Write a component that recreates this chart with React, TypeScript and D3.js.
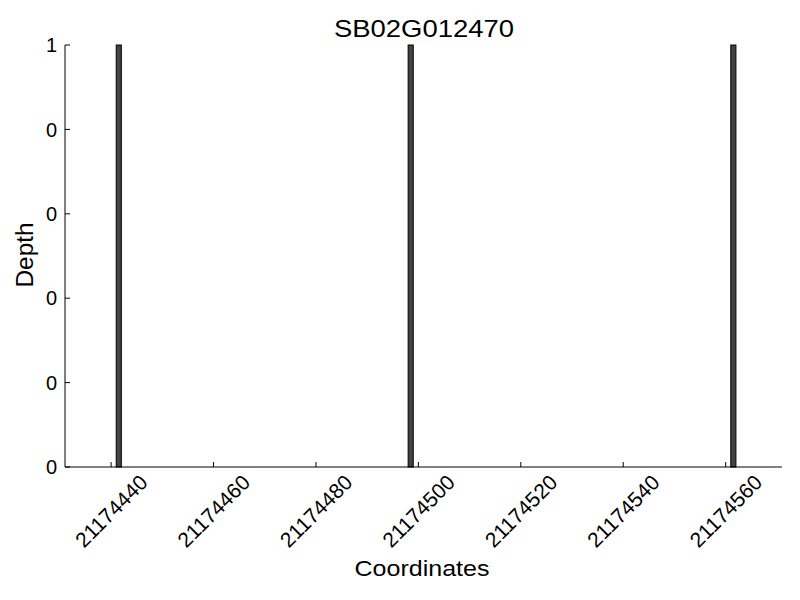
import React from "react";
import * as d3 from "d3";

const title = "SB02G012470";
const xLabel = "Coordinates";
const yLabel = "Depth";
const positions = [21174441, 21174498, 21174561];
const depths = [1, 1, 1];
const xTicks = [21174440, 21174460, 21174480, 21174500, 21174520, 21174540, 21174560];
const yTicks = [0, 0.2, 0.4, 0.6, 0.8, 1];
const yTickLabels = ["0", "0", "0", "0", "0", "1"];
const xDomain = [21174431, 21174571];

export default function App() {
  const W = 800, H = 600;
  const x = d3.scaleLinear().domain(xDomain).range([65, 782]);
  const y = d3.scaleLinear().domain([0, 1]).range([467, 45]);
  const font = "'Liberation Sans', Arial, Helvetica, sans-serif";
  return (
    <svg width={W} height={H} style={{ position: "absolute", left: 0, top: 0, background: "#fff" }} fontFamily={font}>
      <rect x={0} y={0} width={W} height={H} fill="#fff" />
      {positions.map((p, i) => (
        <rect key={i} x={x(p)} y={y(depths[i])} width={x(p + 1) - x(p)} height={y(0) - y(depths[i])}
          fill="#444444" stroke="#000" strokeWidth={1} />
      ))}
      <line x1={65} x2={65} y1={y(1)} y2={y(0)} stroke="#000" strokeWidth={1} />
      <line x1={65} x2={782} y1={y(0)} y2={y(0)} stroke="#000" strokeWidth={1} />
      {yTicks.map((t, i) => (
        <g key={i}>
          <line x1={65} x2={70} y1={y(t)} y2={y(t)} stroke="#000" strokeWidth={1} />
          <text x={57} y={y(t)} dy="0.36em" textAnchor="end" fontSize={20}>{yTickLabels[i]}</text>
        </g>
      ))}
      {xTicks.map((t, i) => (
        <g key={i}>
          <line x1={x(t)} x2={x(t)} y1={y(0)} y2={y(0) - 5} stroke="#000" strokeWidth={1} />
          <text x={0} y={0} dy="0.36em" textAnchor="middle" fontSize={21} textLength={92} lengthAdjust="spacingAndGlyphs"
            transform={`translate(${x(t)},${511}) rotate(-45)`}>{String(t)}</text>
        </g>
      ))}
      <text x={424} y={37} textAnchor="middle" fontSize={24} textLength={180} lengthAdjust="spacingAndGlyphs">{title}</text>
      <text x={422} y={576} textAnchor="middle" fontSize={22} textLength={135} lengthAdjust="spacingAndGlyphs">{xLabel}</text>
      <text x={0} y={0} textAnchor="middle" fontSize={23} textLength={65} lengthAdjust="spacingAndGlyphs"
        transform={`translate(33,255) rotate(-90)`}>{yLabel}</text>
    </svg>
  );
}
